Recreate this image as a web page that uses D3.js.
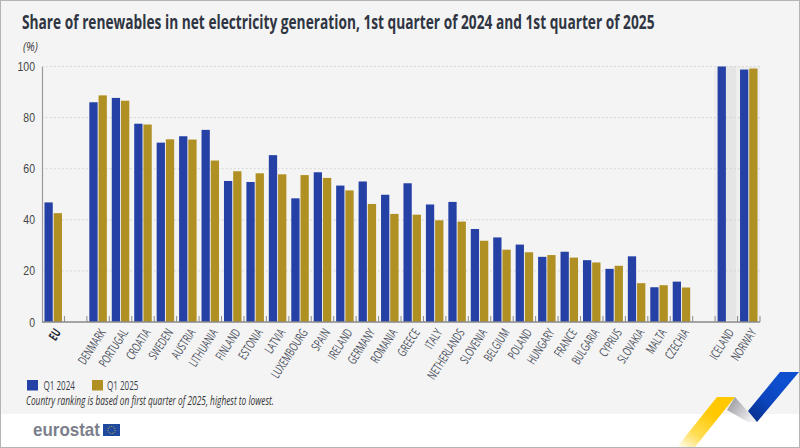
<!DOCTYPE html>
<html><head><meta charset="utf-8">
<script src="https://cdnjs.cloudflare.com/ajax/libs/d3/7.8.5/d3.min.js"></script>
<style>
html,body{margin:0;padding:0;background:#fff}
svg{display:block}
text{font-family:"Liberation Sans Narrow","Open Sans",sans-serif}
</style></head><body>
<svg id="c" width="800" height="448"></svg>
<script>
const categories=["EU","gap1","DENMARK","PORTUGAL","CROATIA","SWEDEN","AUSTRIA","LITHUANIA","FINLAND","ESTONIA","LATVIA","LUXEMBOURG","SPAIN","IRELAND","GERMANY","ROMANIA","GREECE","ITALY","NETHERLANDS","SLOVENIA","BELGIUM","POLAND","HUNGARY","FRANCE","BULGARIA","CYPRUS","SLOVAKIA","MALTA","CZECHIA","gap2","ICELAND","NORWAY"];
const q12024=[46.8,null,86,87.7,77.6,70.2,72.7,75.2,55.2,54.8,65.3,48.4,58.6,53.4,55,49.8,54.3,46,47,36.4,33.1,30.3,25.5,27.5,24.2,20.8,25.7,13.6,15.8,null,100,98.8];
const q12025=[42.6,null,88.7,86.6,77.3,71.5,71.4,63.2,59,58.2,57.8,57.5,56.4,51.5,46.2,42.3,42,39.8,39.3,31.8,28.3,27.3,26.2,25.2,23.3,22,15.2,14.4,13.5,null,null,99.2];
const yTicks=[0,20,40,60,80,100];
const seriesNames=["Q1 2024","Q1 2025"];
const seriesColors=["#2541a5","#b08f23"];

const svg=d3.select("#c");
const defs=svg.append("defs");
function grad(id,x1,y1,x2,y2,stops){
  const g=defs.append("linearGradient").attr("id",id).attr("x1",x1).attr("y1",y1).attr("x2",x2).attr("y2",y2);
  stops.forEach(s=>g.append("stop").attr("offset",s[0]).attr("stop-color",s[1]).attr("stop-opacity",s[2]===undefined?1:s[2]));
}
grad("gy",0,1,.55,.3,[[0,"#ffcc00",0],[.45,"#ffd21a",.75],[1,"#ffc800"]]);
grad("gg",0,0,1,.6,[[0,"#8f9096"],[1,"#f0f0f2"]]);
grad("gb",.1,1,.7,.2,[[0,"#062f8a"],[.5,"#0c45bd"],[1,"#0e4fd0"]]);

// squeeze a text horizontally to a target width around an anchor point
function fit(sel,x0,y0,w){
  const n=sel.node();
  const natural=n.getComputedTextLength();
  sel.attr("transform",`translate(${x0},${y0}) scale(${w/natural},1)`);
  return sel;
}

svg.append("rect").attr("width",800).attr("height",448).attr("fill","#fff");
svg.append("rect").attr("x",0).attr("y",0).attr("width",800).attr("height",414).attr("fill","#f4f4f4");

const m={l:42,r:760,t:66.5,b:322};
const x=d3.scaleBand().domain(categories).range([m.l,m.r]);
const y=d3.scaleLinear().domain([0,100]).range([m.b,m.t]);
const step=x.step();
const x1=d3.scaleBand().domain(seriesNames).range([step*.11,step*.89]).paddingInner(.1);

// highlighted non-EU band
svg.append("rect").attr("x",x("ICELAND")-1).attr("y",m.t).attr("width",m.r-x("ICELAND")+1).attr("height",m.b-m.t).attr("fill","#eeeeee");
svg.append("rect").attr("x",x("ICELAND")+x1("Q1 2025")-1).attr("y",m.t).attr("width",x1.bandwidth()+2).attr("height",m.b-m.t-2).attr("fill","#e5e5e5");

// grid
svg.append("g").selectAll("line").data(yTicks.filter(d=>d>0)).join("line")
  .attr("x1",m.l).attr("x2",m.r).attr("y1",d=>y(d)).attr("y2",d=>y(d))
  .attr("stroke","#cfcfcf").attr("stroke-width",1).attr("stroke-dasharray","1.5 2.5");

// bars
[q12024,q12025].forEach((vals,i)=>{
  svg.append("g").selectAll("rect").data(categories.map((c,k)=>({c,v:vals[k]})).filter(d=>d.v!==null)).join("rect")
    .attr("x",d=>x(d.c)+x1(seriesNames[i]))
    .attr("y",d=>y(d.v))
    .attr("width",x1.bandwidth())
    .attr("height",d=>y(0)-y(d.v))
    .attr("fill",seriesColors[i]);
});

// y axis
const ya=svg.append("g").attr("transform",`translate(${m.l},0)`).call(d3.axisLeft(y).tickValues(yTicks).tickSize(0).tickPadding(7));
ya.select(".domain").attr("stroke","#9a9a9a").attr("stroke-width",1.2);
ya.selectAll("text").attr("fill","#444").style("font-size","12.5px")
  .style("font-family",'"Liberation Sans Narrow",sans-serif')
  .attr("transform","translate(-7,0) scale(.84,1) translate(7,0)");

// x axis
const edges=d3.range(categories.length+1).map(i=>m.l+i*step);
svg.append("g").selectAll("line").data(edges.slice(1)).join("line")
  .attr("x1",d=>d).attr("x2",d=>d).attr("y1",m.b-6).attr("y2",m.b).attr("stroke","#8a8a8a").attr("stroke-width",1);
svg.append("line").attr("x1",m.l).attr("x2",m.r).attr("y1",m.b).attr("y2",m.b).attr("stroke","#8a8a8a").attr("stroke-width",1.3);
svg.append("g").selectAll("text").data(categories.filter(c=>!c.startsWith("gap"))).join("text")
  .attr("transform",d=>`translate(${x(d)+step/2+4.5},${m.b+8}) rotate(-57) scale(.66,1)`)
  .attr("text-anchor","end").attr("dy","0.35em")
  .attr("fill",d=>d==="EU"?"#1f2533":"#4a4f5c")
  .attr("font-weight",d=>d==="EU"?"700":"400")
  .attr("font-size",12.5)
  .text(d=>d);

// titles
fit(svg.append("text").attr("font-size",19).attr("font-weight",700).attr("fill","#2f3542")
  .text("Share of renewables in net electricity generation, 1st quarter of 2024 and 1st quarter of 2025"),22,29,633);
fit(svg.append("text").attr("font-size",13).attr("font-style","italic").attr("fill","#444").text("(%)"),23,50.5,15);

// legend
const lx=[27,92];
const ltx=[43.5,107];
seriesNames.forEach((n,i)=>{
  svg.append("rect").attr("x",lx[i]).attr("y",380).attr("width",11).attr("height",10.5).attr("fill",seriesColors[i]);
  fit(svg.append("text").attr("font-size",13).attr("fill","#3b3f4a").text(n),ltx[i],390.3,31.5);
});
fit(svg.append("text").attr("font-size",12.5).attr("font-style","italic").attr("fill","#333")
  .text("Country ranking is based on first quarter of 2025, highest to lowest."),26,405,248);

// ribbon
svg.append("polygon").attr("points","677,447 717,397 735,397 695,447").attr("fill","url(#gy)");
svg.append("polygon").attr("points","735,397 727,410 748,422 757,422").attr("fill","url(#gg)");
svg.append("polygon").attr("points","748,411 780,372 799,372 757,422").attr("fill","url(#gb)");

// logo
fit(svg.append("text").attr("font-size",17.5).attr("font-weight",700).attr("fill","#7b7f8c")
  .style("font-family",'"Liberation Sans",sans-serif').text("eurostat"),33,436,67);
svg.append("rect").attr("x",103).attr("y",424).attr("width",17).attr("height",12).attr("fill","#1f4aa0");
svg.append("circle").attr("cx",111.5).attr("cy",430).attr("r",3.6).attr("fill","none").attr("stroke","#d8c33a").attr("stroke-width",.9).attr("stroke-dasharray","1 1");

// frame
svg.append("rect").attr("x",.5).attr("y",.5).attr("width",799).attr("height",447).attr("fill","none").attr("stroke","#b4b4b4").attr("stroke-width",1);
</script></body></html>
